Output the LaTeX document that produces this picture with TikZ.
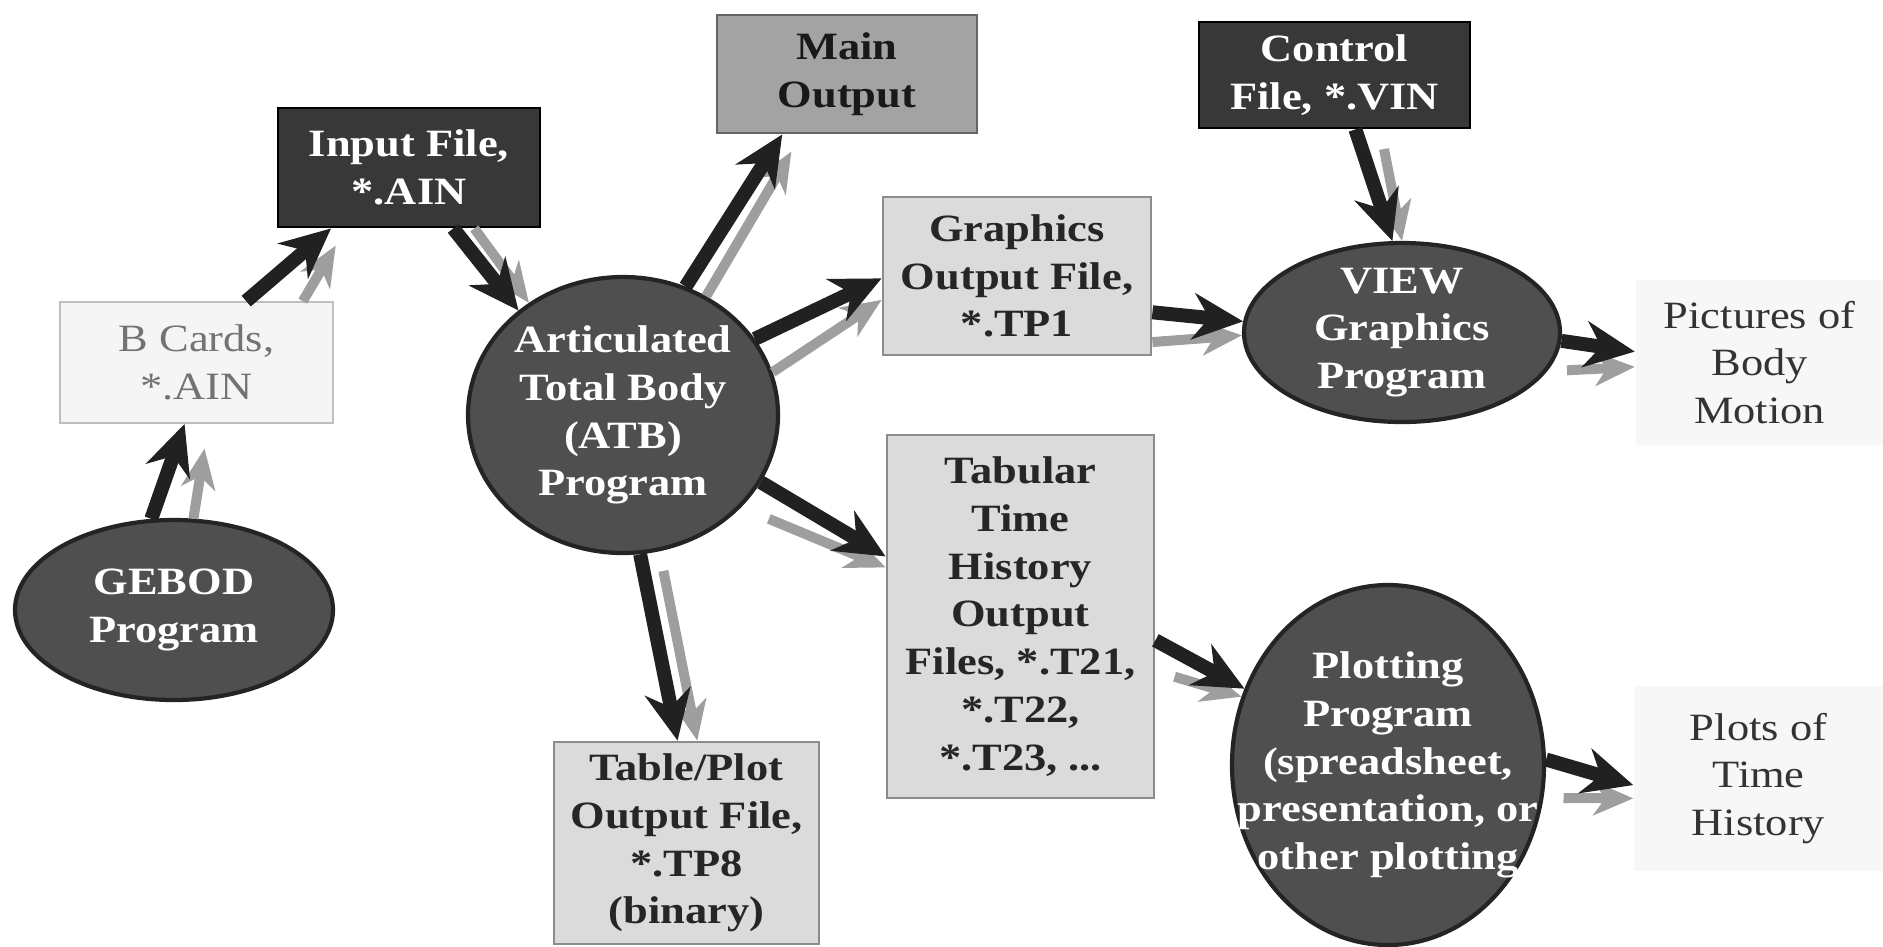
\documentclass[tikz,border=0pt]{standalone}
\usepackage{fontspec}
\setmainfont[FakeStretch=1.15]{Liberation Serif}
\usetikzlibrary{shapes.geometric, arrows.meta}

\definecolor{darkfill}{gray}{0.22}
\definecolor{progfill}{gray}{0.31}
\definecolor{progedge}{gray}{0.14}
\definecolor{midfill}{gray}{0.64}
\definecolor{lightfill}{gray}{0.86}
\definecolor{palefill}{gray}{0.96}
\definecolor{arrowdark}{gray}{0.13}
\definecolor{arrowlight}{gray}{0.62}

\begin{document}
\begin{tikzpicture}[
    % Node styles
    progellipse/.style={
        ellipse,
        draw=progedge,
        line width=1.2pt,
        fill=progfill,
        text=white,
        inner sep=0pt,
        font=\fontsize{11pt}{13.6pt}\selectfont\bfseries,
        align=center
    },
    darkbox/.style={
        rectangle,
        draw=black,
        line width=0.8pt,
        fill=darkfill,
        text=white,
        inner sep=2pt,
        font=\fontsize{11pt}{13.6pt}\selectfont\bfseries,
        align=center
    },
    midbox/.style={
        rectangle,
        draw=black!60,
        line width=0.8pt,
        fill=midfill,
        text=black!90,
        inner sep=2pt,
        font=\fontsize{11pt}{13.6pt}\selectfont\bfseries,
        align=center
    },
    filebox/.style={
        rectangle,
        draw=black!45,
        line width=0.8pt,
        fill=lightfill,
        text=black!85,
        inner sep=2pt,
        font=\fontsize{11pt}{13.6pt}\selectfont\bfseries,
        align=center
    },
    cardbox/.style={
        rectangle,
        draw=black!25,
        line width=0.5pt,
        fill=palefill,
        text=black!55,
        inner sep=2pt,
        font=\fontsize{11pt}{13.6pt}\selectfont,
        align=center
    },
    resultbox/.style={
        rectangle,
        fill=black!3,
        text=black!80,
        inner sep=2pt,
        font=\fontsize{11pt}{13.6pt}\selectfont,
        align=center
    },
    darkarrow/.style={
        -{Stealth[length=5mm, width=4.6mm, inset=1.6mm]},
        line width=1.4mm,
        arrowdark
    },
    lightarrow/.style={
        -{Stealth[length=4mm, width=3.4mm, inset=1.2mm]},
        line width=1mm,
        arrowlight
    }
]

\useasboundingbox (0, 0) rectangle (18.83, -9.46);

% === Programs ===
\node[progellipse, minimum width=3.18cm, minimum height=1.80cm] (gebod) at (1.74, -6.10) {GEBOD\\Program};
\node[progellipse, minimum width=3.10cm, minimum height=2.76cm] (atb) at (6.23, -4.15) {Articulated\\Total Body\\(ATB)\\Program};
\node[progellipse, minimum width=3.16cm, minimum height=1.79cm, inner ysep=-0.1cm] (view) at (14.02, -3.325) {VIEW\\Graphics\\Program};
\node[progellipse, minimum width=3.12cm, minimum height=3.60cm, inner xsep=-0.45cm] (plotting) at (13.88, -7.65) {Plotting\\Program\\(spreadsheet,\\presentation, or\\other plotting};

% === Input files ===
\node[cardbox, minimum width=2.73cm, minimum height=1.21cm] (bcards) at (1.965, -3.625) {B Cards,\\*.AIN};
\node[darkbox, minimum width=2.62cm, minimum height=1.19cm] (input) at (4.09, -1.675) {Input File,\\*.AIN};
\node[darkbox, minimum width=2.71cm, minimum height=1.06cm] (control) at (13.345, -0.75) {Control\\File, *.VIN};

% === Output files ===
\node[midbox, minimum width=2.60cm, minimum height=1.18cm] (mainout) at (8.47, -0.74) {Main\\Output};
\node[filebox, minimum width=2.68cm, minimum height=1.58cm] (graphics) at (10.17, -2.76) {Graphics\\Output File,\\*.TP1};
\node[filebox, minimum width=2.67cm, minimum height=3.63cm] (tabular) at (10.205, -6.165) {Tabular\\Time\\History\\Output\\Files, *.T21,\\*.T22,\\*.T23, ...};
\node[filebox, minimum width=2.65cm, minimum height=2.02cm] (tableplot) at (6.865, -8.43) {Table/Plot\\Output File,\\*.TP8\\(binary)};

% === Results ===
\node[resultbox, minimum width=2.48cm, minimum height=1.65cm] (pictures) at (17.595, -3.625) {Pictures of\\Body\\Motion};
\node[resultbox, minimum width=2.49cm, minimum height=1.85cm] (plots) at (17.585, -7.785) {Plots of\\Time\\History};

% === Arrows: light shadow first, dark on top ===
\draw[lightarrow, shorten >=2.5mm] (gebod.78) -- (bcards.281);
\draw[darkarrow] (gebod.104) -- (bcards.259);

\draw[lightarrow, shorten >=2mm] (bcards.30) -- (input.224);
\draw[darkarrow] (bcards.51) -- (input.218);

\draw[lightarrow] (input.317) -- (atb.130);
\draw[darkarrow] (input.306) -- (atb.135);

% out of the ATB program
\draw[lightarrow, shorten >=2mm] (atb.55) -- (mainout.233);
\draw[darkarrow] (atb.64) -- (mainout.223);
\draw[lightarrow] (atb.16) -- (graphics.190);
\draw[darkarrow] (atb.30) -- (graphics.181);
\draw[lightarrow, shorten <=3mm] (atb.322) -- (tabular.160);
\draw[darkarrow] (atb.334) -- (tabular.156);
\draw[lightarrow, shorten <=2mm] (atb.285) -- (tableplot.84);
\draw[darkarrow] (atb.277) -- (tableplot.95);

% graphics branch
\draw[lightarrow] (graphics.334) -- (view.181);
\draw[darkarrow] (graphics.345) -- (view.176);
\draw[lightarrow, shorten <=2mm] (control.310) -- (view.90);
\draw[darkarrow] (control.291) -- (view.96);
\draw[lightarrow, shorten <=2mm] (view.345) -- (pictures.182);
\draw[darkarrow] (view.357) -- (pictures.175);

% plotting branch
\draw[lightarrow, shorten <=2mm] (tabular.338) -- (plotting.155);
\draw[darkarrow] (tabular.350) -- (plotting.152);
\draw[lightarrow, shorten <=2mm] (plotting.348) -- (plots.189);
\draw[darkarrow] (plotting.2) -- (plots.183);

\end{tikzpicture}
\end{document}
